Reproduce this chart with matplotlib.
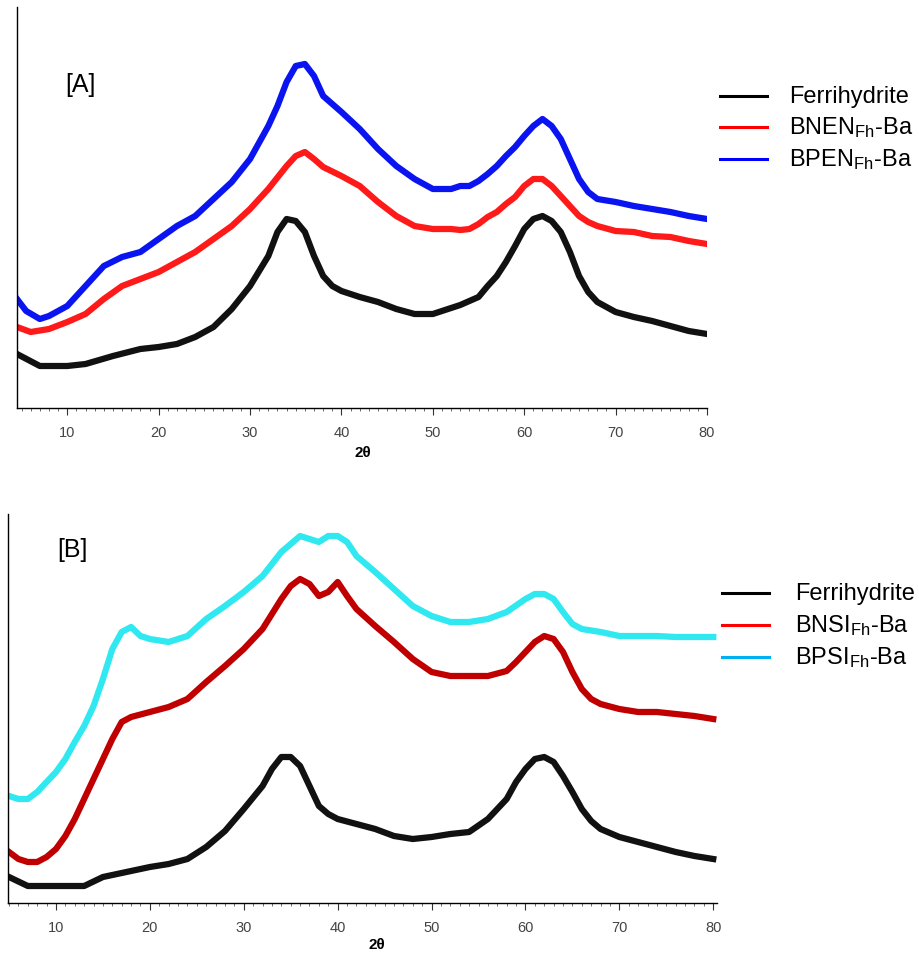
import matplotlib
matplotlib.use('Agg')
import matplotlib.pyplot as plt
from matplotlib.lines import Line2D
from matplotlib.ticker import MultipleLocator

plt.rcParams['font.family'] = ['Liberation Sans', 'DejaVu Sans']
plt.rcParams['mathtext.default'] = 'regular'

# ---- panel A data (2theta in degrees, intensity in arbitrary units) ----
a_fh_x = [4.5, 7, 10, 12, 15, 18, 20, 22, 24, 26, 28, 30, 32, 33, 34, 35, 36, 37, 38, 39,
          40, 42, 44, 46, 48, 50, 52, 53, 54, 55, 56, 57, 58, 59, 60, 61, 62, 63, 64, 65,
          66, 67, 68, 70, 72, 74, 76, 78, 80]
a_fh_y = [54, 42, 42, 44, 52, 59, 61, 64, 71, 81, 99, 122, 152, 176, 189, 187, 176, 152, 132, 122,
          117, 111, 106, 99, 94, 94, 100, 103, 107, 111, 122, 132, 146, 162, 179, 189, 192, 187, 176, 156,
          132, 116, 106, 96, 91, 87, 82, 77, 74]

a_bnen_x = [4.5, 6, 8, 10, 12, 14, 16, 18, 20, 22, 24, 26, 28, 30, 32, 34, 35, 36, 37, 38,
            40, 42, 44, 46, 48, 50, 52, 53, 54, 55, 56, 57, 58, 59, 60, 61, 62, 63, 64, 65,
            66, 67, 68, 70, 72, 74, 76, 78, 80]
a_bnen_y = [81, 76, 79, 86, 94, 109, 122, 129, 136, 146, 156, 169, 182, 199, 219, 242, 252, 256, 249, 241,
            232, 222, 206, 192, 182, 179, 179, 178, 179, 184, 191, 196, 204, 211, 222, 229, 229, 222, 212, 202,
            192, 186, 182, 177, 176, 172, 171, 167, 164]

a_bpen_x = [4.5, 5.5, 7, 8, 10, 12, 14, 16, 18, 20, 22, 24, 26, 28, 30, 32, 33, 34, 35, 36,
            37, 38, 40, 42, 44, 46, 48, 50, 52, 53, 54, 55, 56, 57, 58, 59, 60, 61, 62, 63,
            64, 65, 66, 67, 68, 70, 72, 74, 76, 78, 80]
a_bpen_y = [109, 97, 89, 92, 102, 122, 142, 151, 156, 169, 182, 192, 209, 226, 249, 282, 302, 326, 342, 344,
            332, 312, 296, 279, 259, 242, 229, 219, 219, 222, 222, 227, 234, 242, 252, 261, 272, 282, 289, 282,
            269, 249, 229, 216, 209, 206, 202, 199, 196, 192, 189]

# ---- panel B data ----
b_fh_x = [5, 7, 10, 13, 15, 18, 20, 22, 24, 26, 28, 30, 32, 33, 34, 35, 36, 37, 38, 39,
          40, 42, 44, 46, 48, 50, 52, 54, 56, 58, 59, 60, 61, 62, 63, 64, 65, 66, 67, 68,
          70, 72, 74, 76, 78, 80]
b_fh_y = [26, 17, 17, 17, 26, 32, 36, 39, 44, 56, 72, 94, 117, 134, 146, 146, 137, 117, 97, 89,
          84, 79, 74, 67, 64, 66, 69, 71, 84, 104, 121, 134, 144, 146, 141, 127, 111, 94, 82, 74,
          66, 61, 56, 51, 47, 44]

b_bnsi_x = [5, 6, 7, 8, 9, 10, 11, 12, 13, 14, 15, 16, 17, 18, 20, 22, 24, 26, 28, 30,
            32, 34, 35, 36, 37, 38, 39, 40, 41, 42, 44, 46, 48, 50, 52, 54, 56, 58, 59, 60,
            61, 62, 63, 64, 65, 66, 67, 68, 70, 72, 74, 76, 78, 80]
b_bnsi_y = [51, 44, 41, 41, 46, 54, 67, 84, 104, 124, 144, 164, 181, 186, 191, 196, 204, 221, 237, 254,
            274, 304, 317, 324, 319, 307, 311, 321, 307, 294, 277, 261, 244, 231, 227, 227, 227, 232, 241, 251,
            261, 267, 264, 251, 231, 214, 204, 199, 194, 191, 191, 189, 187, 184]

b_bpsi_x = [5, 6, 7, 8, 9, 10, 11, 12, 13, 14, 15, 16, 17, 18, 19, 20, 22, 24, 26, 28,
            30, 32, 34, 36, 37, 38, 39, 40, 41, 42, 44, 46, 48, 50, 52, 54, 56, 58, 60, 61,
            62, 63, 64, 65, 66, 68, 70, 72, 74, 76, 78, 80]
b_bpsi_y = [107, 104, 104, 111, 121, 131, 144, 161, 177, 197, 224, 254, 271, 276, 267, 264, 261, 267, 284, 297,
            311, 327, 351, 367, 364, 361, 367, 367, 361, 347, 331, 314, 297, 287, 281, 281, 284, 291, 304, 309,
            309, 304, 291, 279, 274, 271, 267, 267, 267, 266, 266, 266]

labels_a = ['Ferrihydrite', 'BNEN$_{Fh}$-Ba', 'BPEN$_{Fh}$-Ba']
labels_b = ['Ferrihydrite', 'BNSI$_{Fh}$-Ba', 'BPSI$_{Fh}$-Ba']

W, H = 919, 954
fig = plt.figure(figsize=(W / 100, H / 100), dpi=100)


def px_axes(left, top, right, bottom):
    return fig.add_axes([left / W, 1 - bottom / H, (right - left) / W, (bottom - top) / H])


def style_axis(ax, xlim, ytop):
    ax.set_xlim(*xlim)
    ax.set_ylim(0, ytop)
    for s in ['top', 'right']:
        ax.spines[s].set_visible(False)
    ax.spines['left'].set_linewidth(1.0)
    ax.spines['bottom'].set_linewidth(1.0)
    ax.set_yticks([])
    ax.xaxis.set_major_locator(MultipleLocator(10))
    ax.xaxis.set_minor_locator(MultipleLocator(1))
    ax.tick_params(axis='x', which='major', length=5, width=0.8, pad=7,
                   labelsize=10.5, labelcolor='#444444', color='#333333')
    ax.tick_params(axis='x', which='minor', length=2.5, width=0.6, color='#555555')
    ax.set_xticks([10, 20, 30, 40, 50, 60, 70, 80])


def legend_block(x0, x1, xt, ys, colors, labels):
    for y, c, lab in zip(ys, colors, labels):
        fig.add_artist(Line2D([x0 / W, x1 / W], [1 - y / H, 1 - y / H], color=c, lw=2.2))
        fig.text(xt / W, 1 - y / H, lab, fontsize=17, va='center', ha='left', color='black')


# noisy scans in the original read as bands ~6-8 px thick
lw = 4.5

# ---- panel A ----
ax1 = px_axes(17, 8, 707, 409)
ax1.plot(a_fh_x, a_fh_y, color='#111111', lw=lw, solid_joinstyle='round')
ax1.plot(a_bnen_x, a_bnen_y, color='#ff1a1a', lw=lw, solid_joinstyle='round')
ax1.plot(a_bpen_x, a_bpen_y, color='#0a14f0', lw=lw, solid_joinstyle='round')
style_axis(ax1, (4.5, 80), 401)
fig.text(363 / W, 1 - 453 / H, '2θ', fontsize=11, fontweight='bold', ha='center', va='center')
fig.text(65 / W, 1 - 85 / H, '[A]', fontsize=18, ha='left', va='center')
legend_block(720, 767, 789, [97, 128, 160], ['black', '#ff0000', '#0000ff'], labels_a)

# ---- panel B ----
ax2 = px_axes(8, 515, 717, 904)
ax2.plot(b_fh_x, b_fh_y, color='#111111', lw=lw, solid_joinstyle='round')
ax2.plot(b_bnsi_x, b_bnsi_y, color='#c00000', lw=lw, solid_joinstyle='round')
ax2.plot(b_bpsi_x, b_bpsi_y, color='#30e8f0', lw=lw, solid_joinstyle='round')
style_axis(ax2, (4.89, 80.4), 389)
fig.text(377 / W, 1 - 945 / H, '2θ', fontsize=11, fontweight='bold', ha='center', va='center')
fig.text(57 / W, 1 - 550 / H, '[B]', fontsize=18, ha='left', va='center')
legend_block(722, 769, 795, [594, 626, 658], ['black', '#ff0000', '#00b0f0'], labels_b)

fig.savefig('out.png', dpi=100)
plt.close(fig)
